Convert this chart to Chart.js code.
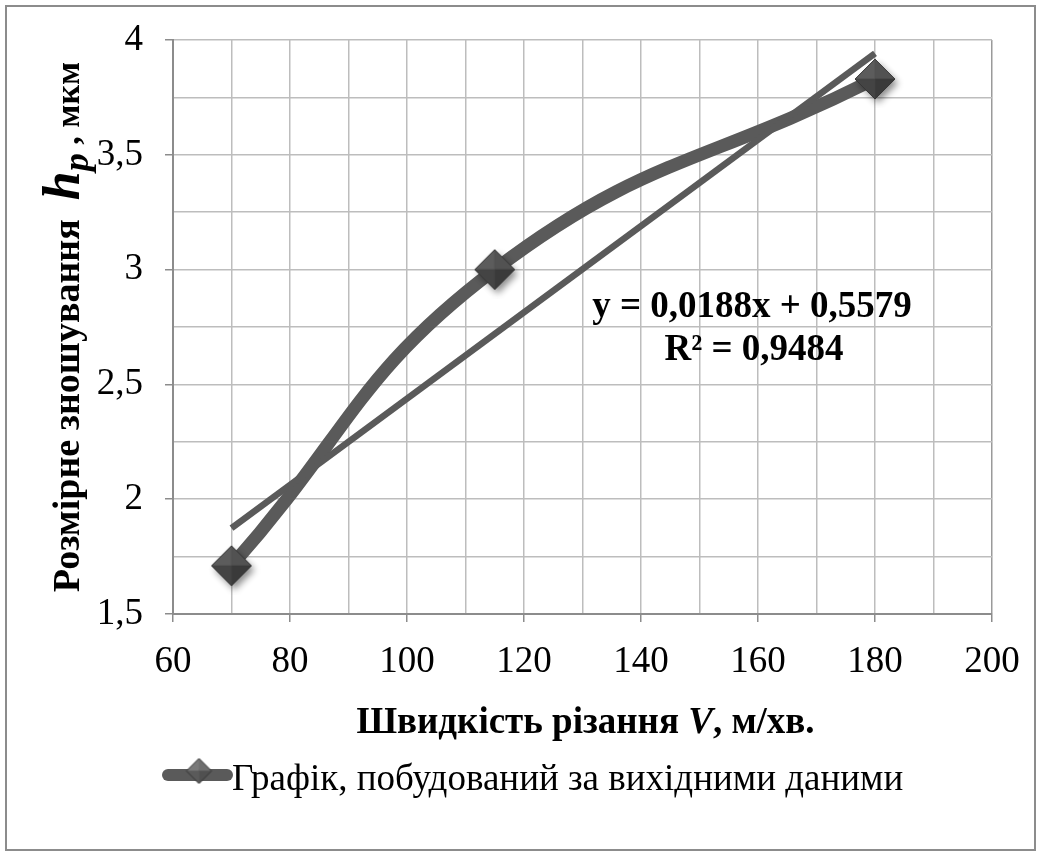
<!DOCTYPE html>
<html>
<head>
<meta charset="utf-8">
<script src="https://cdn.jsdelivr.net/npm/chart.js@4"></script>
<style>
  body { margin: 0; background: #fff; }
</style>
</head>
<body>
<canvas id="wear-chart" width="1040" height="856"></canvas>
<script>
// measured points
const speed = [70, 115, 180];
const wear = [1.71, 3.0, 3.83];

// linear trend, as printed on the chart
const trendSlope = 0.0188;
const trendIntercept = 0.5579;
const trendR2 = "0,9484";
const trendFrom = 70;
const trendTo = 180;

const seriesLabel = "Графік, побудований за вихідними даними";
const lineColor = "#5a5a5a";
const serif = "'Liberation Serif', 'Times New Roman', serif";

// pyramid-shaded diamond used as the marker image
function diamond(r, withShadow) {
    const pad = withShadow ? 9 : 2;
    const size = 2 * r + 2 * pad;
    const c = document.createElement("canvas");
    c.width = size;
    c.height = size;
    const g = c.getContext("2d");
    const cx = size / 2, cy = size / 2;
    const T = [cx, cy - r], R = [cx + r, cy], B = [cx, cy + r], L = [cx - r, cy];
    const path = (pts) => {
        g.beginPath();
        g.moveTo(pts[0][0], pts[0][1]);
        for (let i = 1; i < pts.length; i++) g.lineTo(pts[i][0], pts[i][1]);
        g.closePath();
    };
    if (withShadow) {
        g.save();
        g.shadowColor = "rgba(0,0,0,0.45)";
        g.shadowBlur = 7;
        g.shadowOffsetX = 3;
        g.shadowOffsetY = 4;
        path([T, R, B, L]);
        g.fillStyle = "#444";
        g.fill();
        g.restore();
    }
    const C = [cx, cy];
    const faces = [
        [[L, T, C], withShadow ? "#5c5c5c" : "#7a7a7a"],
        [[T, R, C], withShadow ? "#525252" : "#6e6e6e"],
        [[R, B, C], withShadow ? "#3a3a3a" : "#505050"],
        [[B, L, C], withShadow ? "#444444" : "#5a5a5a"],
    ];
    faces.forEach(([pts, col]) => {
        path(pts);
        g.fillStyle = col;
        g.fill();
        g.strokeStyle = col;
        g.lineWidth = 0.6;
        g.stroke();
    });
    path([T, R, B, L]);
    g.strokeStyle = "#363636";
    g.lineWidth = 1;
    g.stroke();
    return c;
}

const marker = diamond(20, true);
const legendMarker = diamond(12.5, false);

// draws a row of differently styled text pieces from (x, y)
function drawRun(ctx, parts, x, y) {
    parts.forEach((p) => {
        ctx.font = p.font;
        ctx.fillText(p.text, x, y + (p.dy || 0));
        x += ctx.measureText(p.text).width;
    });
}

function runWidth(ctx, parts) {
    let w = 0;
    parts.forEach((p) => {
        ctx.font = p.font;
        w += ctx.measureText(p.text).width;
    });
    return w;
}

const textPlugin = {
    id: "chartText",
    afterDraw(chart) {
        const { ctx, chartArea: a } = chart;
        ctx.save();

        // outer frame
        ctx.strokeStyle = "#8c8c8c";
        ctx.lineWidth = 2;
        ctx.strokeRect(6, 6, 1029, 844);

        ctx.fillStyle = "#000";
        ctx.textBaseline = "alphabetic";
        ctx.textAlign = "left";

        // x axis title
        const xTitle = [
            { text: "Швидкість різання ", font: "bold 37px " + serif },
            { text: "V", font: "italic bold 37px " + serif },
            { text: ", м/хв.", font: "bold 37px " + serif },
        ];
        const xw = runWidth(ctx, xTitle);
        drawRun(ctx, xTitle, (a.left + a.right) / 2 - xw / 2 + 3, 733);

        // y axis title, rotated
        const yTitle = [
            { text: "Розмірне зношування  ", font: "bold 38px " + serif },
            { text: "h", font: "italic bold 52px " + serif },
            { text: "p", font: "italic bold 36px " + serif, dy: 9 },
            { text: " , ", font: "bold 34px " + serif },
            { text: "мкм", font: "bold 34px " + serif },
        ];
        const yw = runWidth(ctx, yTitle);
        ctx.save();
        ctx.translate(79, (a.top + a.bottom) / 2);
        ctx.rotate(-Math.PI / 2);
        drawRun(ctx, yTitle, -yw / 2, 0);
        ctx.restore();

        // trend equation
        ctx.textAlign = "center";
        ctx.font = "bold 37px " + serif;
        const eq = "y = " + String(trendSlope).replace(".", ",") + "x + " +
            String(trendIntercept).replace(".", ",");
        ctx.fillText(eq, 752, 317);
        ctx.fillText("R² = " + trendR2, 754, 360);

        // legend
        ctx.strokeStyle = lineColor;
        ctx.lineWidth = 12;
        ctx.lineCap = "round";
        ctx.beginPath();
        ctx.moveTo(168, 775);
        ctx.lineTo(227, 775);
        ctx.stroke();
        ctx.drawImage(legendMarker, 199 - legendMarker.width / 2, 771 - legendMarker.height / 2);
        ctx.textAlign = "left";
        ctx.font = "37px " + serif;
        ctx.fillText(chart.data.datasets[0].label, 232, 790);

        ctx.restore();
    },
};

const fmt = (v) => String(v).replace(".", ",");
const isHalf = (v) => Math.abs(v * 2 - Math.round(v * 2)) < 1e-9;

// fixed axis sizes, no extra room for overflowing end labels
const fixX = (s) => { s.height = 242; s.paddingLeft = 0; s.paddingRight = 0; };
const fixY = (s) => { s.width = 173; s.paddingTop = 0; s.paddingBottom = 0; };

const config = {
    type: "line",
    data: {
        datasets: [
            {
                label: seriesLabel,
                data: speed.map((s, i) => ({ x: s, y: wear[i] })),
                borderColor: lineColor,
                borderWidth: 13,
                borderCapStyle: "round",
                borderJoinStyle: "round",
                tension: 0.45,
                pointRadius: 0,
                order: 3,
            },
            {
                label: "trend",
                data: [
                    { x: trendFrom, y: trendSlope * trendFrom + trendIntercept },
                    { x: trendTo, y: trendSlope * trendTo + trendIntercept },
                ],
                borderColor: lineColor,
                borderWidth: 6.5,
                pointRadius: 0,
                order: 2,
            },
            {
                label: "markers",
                data: speed.map((s, i) => ({ x: s, y: wear[i] })),
                showLine: false,
                pointStyle: marker,
                pointRadius: 20,
                order: 1,
            },
        ],
    },
    options: {
        responsive: false,
        animation: false,
        layout: { padding: { top: 40, right: 48, left: 0, bottom: 0 } },
        plugins: {
            legend: { display: false },
            tooltip: { enabled: false },
        },
        scales: {
            x: {
                type: "linear",
                min: 60,
                max: 200,
                afterFit: fixX,
                ticks: {
                    stepSize: 10,
                    autoSkip: false,
                    maxRotation: 0,
                    padding: 18,
                    color: "#000",
                    font: { family: serif, size: 37 },
                    callback: (v) => (v % 20 === 0 ? fmt(v) : ""),
                },
                grid: {
                    color: (c) => (c.tick && c.tick.value === 200 ? "#9a9a9a" : "#bdbdbd"),
                    lineWidth: 1.5,
                    tickLength: 8,
                    tickColor: (c) => (c.tick && c.tick.value % 20 === 0 ? "#8c8c8c" : "rgba(0,0,0,0)"),
                },
                border: { color: "#8c8c8c", width: 2 },
            },
            y: {
                min: 1.5,
                max: 4,
                afterFit: fixY,
                ticks: {
                    stepSize: 0.25,
                    autoSkip: false,
                    padding: 22,
                    color: "#000",
                    font: { family: serif, size: 37 },
                    callback: (v) => (isHalf(v) ? fmt(v) : ""),
                },
                grid: {
                    color: "#bdbdbd",
                    lineWidth: 1.5,
                    tickLength: 8,
                    tickColor: (c) => (c.tick && isHalf(c.tick.value) ? "#8c8c8c" : "rgba(0,0,0,0)"),
                },
                border: { color: "#8c8c8c", width: 2 },
            },
        },
    },
    plugins: [textPlugin],
};

const wearChart = new Chart(document.getElementById("wear-chart"), config);
</script>
</body>
</html>
